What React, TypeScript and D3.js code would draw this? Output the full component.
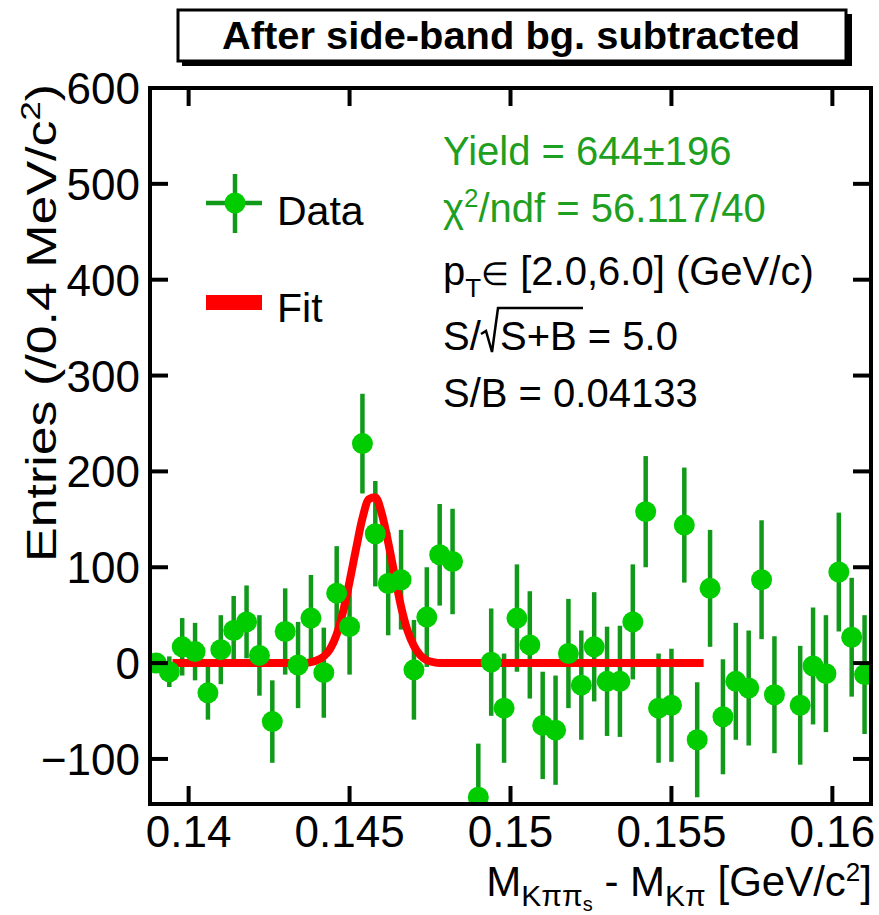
import * as d3 from "d3";

// D*+ -> D0 pi_s : delta-mass spectrum after side-band background subtraction
const binCenters = [
  0.139, 0.1394, 0.1398, 0.1402, 0.1406, 0.141, 0.1414, 0.1418, 0.1422, 0.1426,
  0.143, 0.1434, 0.1438, 0.1442, 0.1446, 0.145, 0.1454, 0.1458, 0.1462, 0.1466,
  0.147, 0.1474, 0.1478, 0.1482, 0.1486, 0.149, 0.1494, 0.1498, 0.1502, 0.1506,
  0.151, 0.1514, 0.1518, 0.1522, 0.1526, 0.153, 0.1534, 0.1538, 0.1542, 0.1546,
  0.155, 0.1554, 0.1558, 0.1562, 0.1566, 0.157, 0.1574, 0.1578, 0.1582, 0.1586,
  0.159, 0.1594, 0.1598, 0.1602, 0.1606, 0.161,
];
// null = bin not drawn in the original (off scale)
const entries = [
  0, -9, 17, 12, -31, 14, 34, 43, 8, -61,
  33, -2, 47, -10, 73, 38, 229, 135, 83, 87,
  -7, 48, 113, 106, null, -140, 1, -47, 47, 19,
  -65, -70, 10, -23, 17, -19, -19, 43, 158, -47,
  -44, 144, -80, 78, -56, -19, -26, 87, -33, null,
  -44, -3, -11, 95, 27, -12,
];
const errors = [
  10, 16, 30, 30, 28, 36, 36, 38, 42, 43,
  45, 45, 45, 47, 49, 50, 52, 55, 54, 52,
  52, 52, 53, 55, 0, 56, 56, 57, 56, 56,
  56, 57, 57, 57, 57, 57, 58, 60, 58, 57,
  59, 60, 60, 61, 60, 61, 60, 62, 61, 0,
  62, 61, 61, 62, 62, 62,
];

// fit curve (gaussian on flat zero background)
const fitX = [
  0.1395, 0.1436, 0.1438, 0.144, 0.1442, 0.1444, 0.1446, 0.1448, 0.145, 0.1452,
  0.1454, 0.1456, 0.1458, 0.146, 0.1462, 0.1464, 0.1466, 0.1468, 0.147, 0.1472,
  0.1474, 0.1476, 0.1478, 0.156,
];
const fitY = [
  0, 0, 1, 3, 7, 15, 30, 54, 85, 119,
  151, 171, 173, 156, 126, 92, 59, 34, 18, 8,
  3, 1, 0, 0,
];

const xTicks = [0.14, 0.145, 0.15, 0.155, 0.16];
const xTickLabels = ["0.14", "0.145", "0.15", "0.155", "0.16"];
const yTicks = [-100, 0, 100, 200, 300, 400, 500, 600];
const yTickLabels = ["−100", "0", "100", "200", "300", "400", "500", "600"];

const width = 879;
const height = 915;
const frame = { left: 150, right: 871, top: 88, bottom: 804 };
const font = "'Liberation Sans', Arial, Helvetica, sans-serif";
const markerGreen = "#00cc00";
const barGreen = "#11991a";
const textGreen = "#1f9f1f";
const tickLen = 18;

const App = () => {
  const x = d3.scaleLinear().domain([0.1388, 0.1612]).range([frame.left, frame.right]);
  const y = d3.scaleLinear().domain([-147, 600]).range([frame.bottom, frame.top]);

  const points = binCenters
    .map((c, i) => ({ c, v: entries[i], e: errors[i] }))
    .filter((d) => d.v !== null) as { c: number; v: number; e: number }[];

  const fitLine = d3
    .line<number>()
    .x((d, i) => x(fitX[i]))
    .y((d) => y(d))
    .curve(d3.curveMonotoneX);

  return (
    <svg
      width={width}
      height={height}
      style={{ position: "absolute", left: 0, top: 0, background: "#fff" }}
      fontFamily={font}
    >
      <defs>
        <clipPath id="plotClip">
          <rect x={frame.left} y={frame.top} width={frame.right - frame.left} height={frame.bottom - frame.top} />
        </clipPath>
      </defs>

      {/* title box with shadow */}
      <rect x={182} y={14} width={670} height={52} fill="#000" />
      <rect x={178} y={10} width={668} height={51} fill="#fff" stroke="#000" strokeWidth={3} />
      <text
        x={511}
        y={49}
        textAnchor="middle"
        fontSize={38}
        fontWeight="bold"
        textLength={578}
        lengthAdjust="spacingAndGlyphs"
      >
        After side-band bg. subtracted
      </text>

      {/* data */}
      <g clipPath="url(#plotClip)">
        {points.map((d, i) => (
          <line
            key={"e" + i}
            x1={x(d.c)}
            x2={x(d.c)}
            y1={y(d.v - d.e)}
            y2={y(d.v + d.e)}
            stroke={barGreen}
            strokeWidth={4.5}
          />
        ))}
        <path d={fitLine(fitY) || ""} fill="none" stroke="#ff0000" strokeWidth={8} strokeLinejoin="round" />
        {points.map((d, i) => (
          <circle key={"m" + i} cx={x(d.c)} cy={y(d.v)} r={10.5} fill={markerGreen} />
        ))}
      </g>

      {/* frame and ticks */}
      <rect
        x={frame.left}
        y={frame.top}
        width={frame.right - frame.left}
        height={frame.bottom - frame.top}
        fill="none"
        stroke="#000"
        strokeWidth={4}
      />
      {xTicks.map((t, i) => (
        <g key={"xt" + i}>
          <line x1={x(t)} x2={x(t)} y1={frame.bottom} y2={frame.bottom - tickLen} stroke="#000" strokeWidth={4} />
          <line x1={x(t)} x2={x(t)} y1={frame.top} y2={frame.top + tickLen} stroke="#000" strokeWidth={4} />
          <text x={x(t)} y={847} textAnchor="middle" fontSize={44}>
            {xTickLabels[i]}
          </text>
        </g>
      ))}
      {yTicks.map((t, i) => (
        <g key={"yt" + i}>
          <line x1={frame.left} x2={frame.left + tickLen} y1={y(t)} y2={y(t)} stroke="#000" strokeWidth={4} />
          <line x1={frame.right} x2={frame.right - tickLen} y1={y(t)} y2={y(t)} stroke="#000" strokeWidth={4} />
          <text x={140} y={y(t) + 16} textAnchor="end" fontSize={44}>
            {yTickLabels[i]}
          </text>
        </g>
      ))}

      {/* axis titles */}
      <text
        transform="translate(56,84) rotate(-90)"
        textAnchor="end"
        fontSize={42}
        textLength={478}
        lengthAdjust="spacingAndGlyphs"
      >
        Entries (/0.4 MeV/c
        <tspan fontSize={28} dy={-16}>2</tspan>
        <tspan dy={16}>)</tspan>
      </text>
      <text x={872} y={896} textAnchor="end" fontSize={42}>
        M
        <tspan fontSize={30} dy={10}>Kππ</tspan>
        <tspan fontSize={20} dy={5}>s</tspan>
        <tspan dy={-15}> - M</tspan>
        <tspan fontSize={30} dy={10}>Kπ</tspan>
        <tspan dy={-10}> [GeV/c</tspan>
        <tspan fontSize={26} dy={-15}>2</tspan>
        <tspan dy={15}>]</tspan>
      </text>

      {/* legend */}
      <line x1={235} x2={235} y1={174} y2={233} stroke={barGreen} strokeWidth={4.5} />
      <line x1={206} x2={262} y1={203} y2={203} stroke={barGreen} strokeWidth={4.5} />
      <circle cx={235} cy={203} r={10.5} fill={markerGreen} />
      <text x={277} y={225} fontSize={41}>Data</text>
      <rect x={206} y={295} width={56} height={15} fill="#ff0000" />
      <text x={277} y={322} fontSize={41}>Fit</text>

      {/* fit results */}
      <g fontSize={40}>
        <text x={443} y={165} fill={textGreen}>Yield = 644±196</text>
        <text x={443} y={222} fill={textGreen}>
          χ<tspan fontSize={26} dy={-15}>2</tspan>
          <tspan dy={15}>/ndf = 56.117/40</tspan>
        </text>
        <text x={443} y={285}>
          p<tspan fontSize={26} dy={12}>T</tspan>
          <tspan dy={-12} fontSize={32}>∈</tspan>
          <tspan> [2.0,6.0] (GeV/c)</tspan>
        </text>
        <text x={443} y={350}>S/</text>
        <polyline
          points="481,334 486,331 492,352 498,308 583,308"
          fill="none"
          stroke="#000"
          strokeWidth={2.5}
          strokeLinejoin="miter"
        />
        <text x={500} y={350}>S+B = 5.0</text>
        <text x={443} y={407}>S/B = 0.04133</text>
      </g>
    </svg>
  );
};

export default App;
